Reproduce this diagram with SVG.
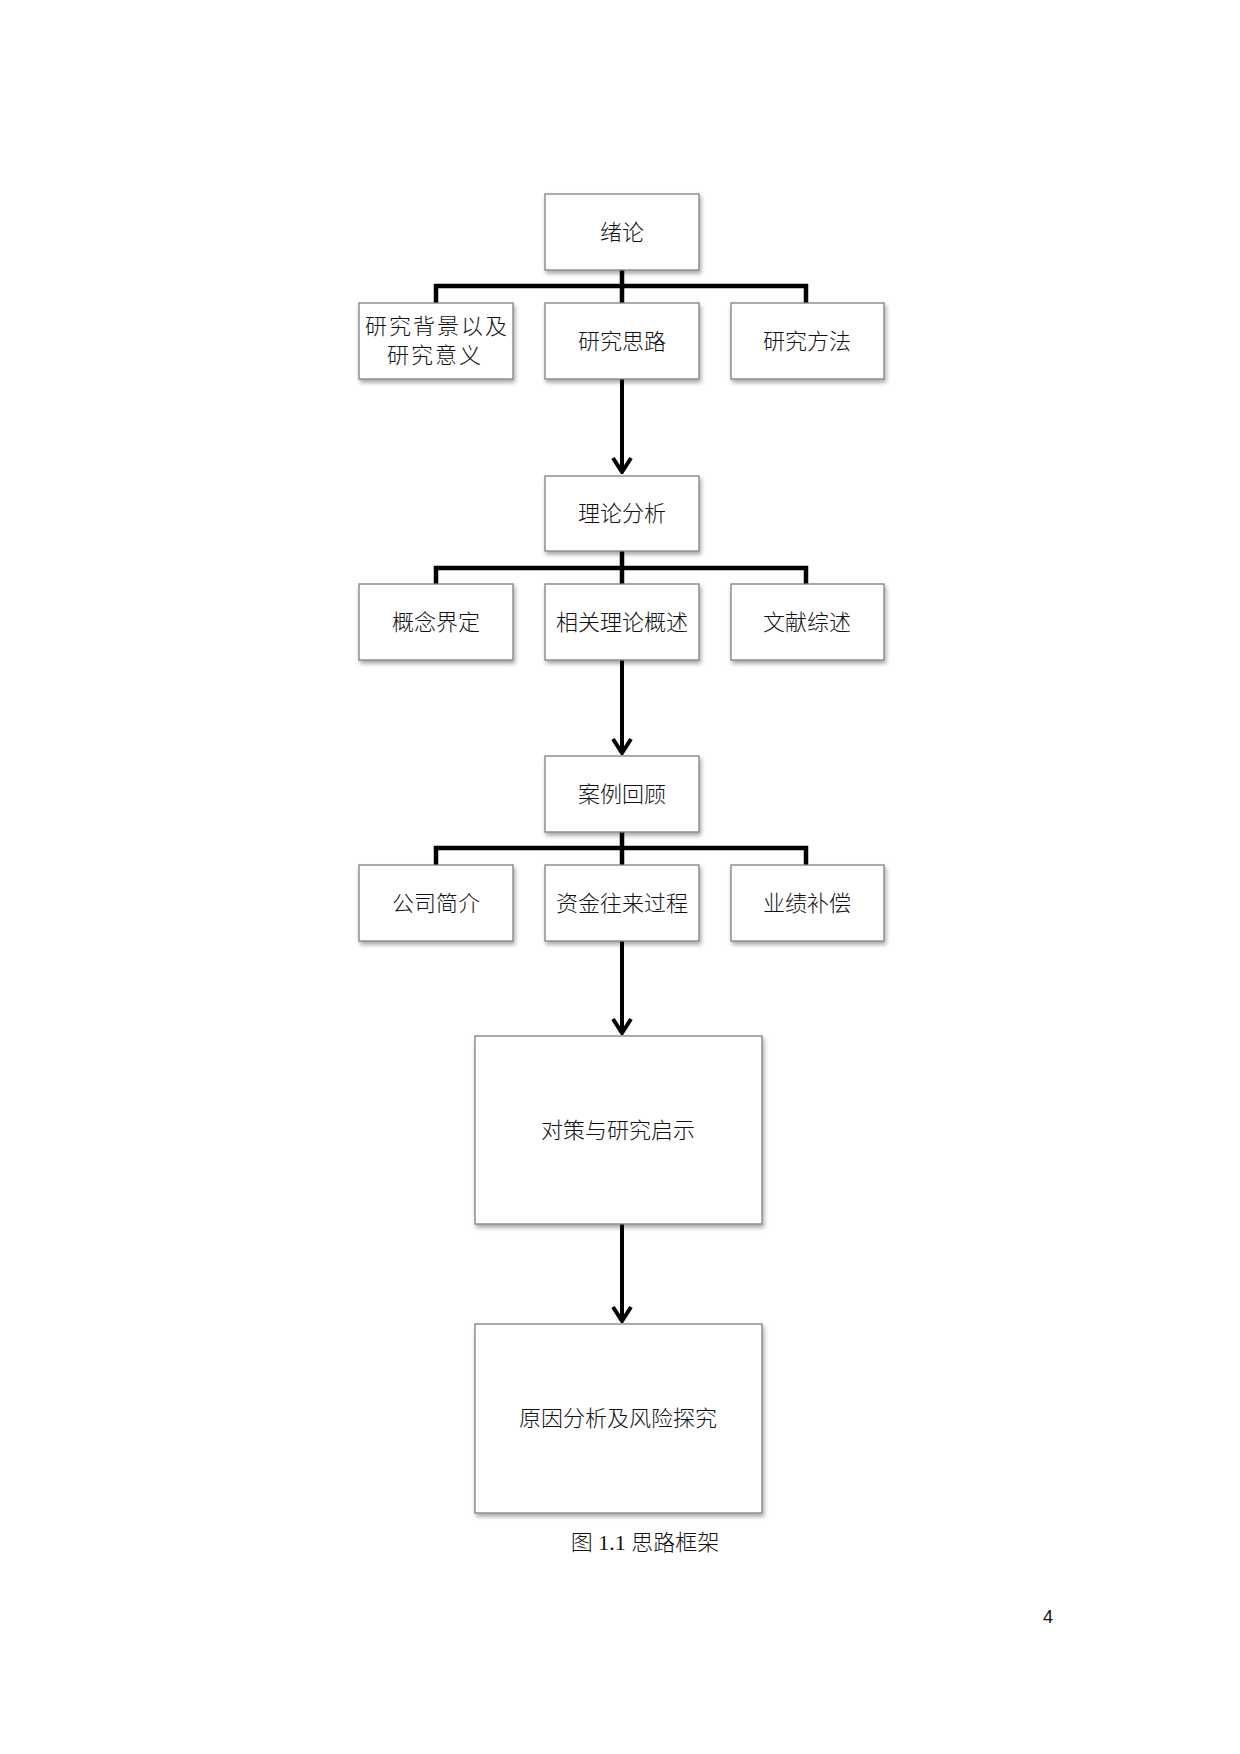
<svg xmlns="http://www.w3.org/2000/svg" width="1240" height="1754" viewBox="0 0 1240 1754">
<defs>
<style>
.box{fill:#fff;stroke:#808080;stroke-width:1.3;filter:url(#sh)}
.t{font-family:"Noto Sans CJK SC","Noto Sans",sans-serif;font-size:22px;font-weight:300;fill:#111;text-anchor:middle;dominant-baseline:central}
.br{fill:none;stroke:#000;stroke-width:4.5;stroke-linejoin:miter;stroke-linecap:butt}
.ar{fill:none;stroke:#000;stroke-width:4;marker-end:url(#ah)}
.cap{font-family:"Liberation Serif","Noto Sans CJK SC",serif;font-size:22px;font-weight:300;fill:#111;text-anchor:middle}
.pg{font-family:"Liberation Sans",sans-serif;font-size:18px;fill:#111;text-anchor:middle}
</style>
<filter id="sh" x="-10%" y="-10%" width="130%" height="140%">
<feDropShadow dx="1.5" dy="3" stdDeviation="2" flood-color="#000" flood-opacity="0.35"/>
</filter>
<marker id="ah" markerUnits="userSpaceOnUse" viewBox="-18 -12 20 24" markerWidth="20" markerHeight="24" refX="0" refY="0" orient="auto">
<path d="M-14,-9 L0,0 L-14,9" fill="none" stroke="#000" stroke-width="4" stroke-linejoin="miter"/>
</marker>
</defs>
<rect width="1240" height="1754" fill="#fff"/>

<g id="connectors">
<path class="br" d="M622,270 V303 M436,303 V286 H806 V303"/>
<path class="br" d="M622,551 V584 M436,584 V568 H806 V584"/>
<path class="br" d="M622,832 V865 M436,865 V848 H806 V865"/>
<line class="ar" x1="622" y1="379" x2="622" y2="472"/>
<line class="ar" x1="622" y1="660" x2="622" y2="753"/>
<line class="ar" x1="622" y1="941" x2="622" y2="1033"/>
<line class="ar" x1="622" y1="1224" x2="622" y2="1321"/>
</g>

<g id="n-xulun"><rect class="box" x="545" y="194" width="154" height="76"/><text class="t" x="622" y="230">绪论</text></g>
<g id="n-beijing"><rect class="box" x="359" y="303" width="154" height="76"/><text class="t" x="437" y="324" font-size="20" letter-spacing="2">研究背景以及</text><text class="t" x="435" y="353" font-size="20" letter-spacing="2">研究意义</text></g>
<g id="n-silu"><rect class="box" x="545" y="303" width="154" height="76"/><text class="t" x="622" y="339">研究思路</text></g>
<g id="n-fangfa"><rect class="box" x="731" y="303" width="153" height="76"/><text class="t" x="807" y="339">研究方法</text></g>

<g id="n-lilun"><rect class="box" x="545" y="476" width="154" height="75"/><text class="t" x="622" y="511">理论分析</text></g>
<g id="n-gainian"><rect class="box" x="359" y="584" width="154" height="76"/><text class="t" x="436" y="620">概念界定</text></g>
<g id="n-xiangguan"><rect class="box" x="545" y="584" width="154" height="76"/><text class="t" x="622" y="620">相关理论概述</text></g>
<g id="n-wenxian"><rect class="box" x="731" y="584" width="153" height="76"/><text class="t" x="807" y="620">文献综述</text></g>

<g id="n-anli"><rect class="box" x="545" y="756" width="154" height="76"/><text class="t" x="622" y="792">案例回顾</text></g>
<g id="n-gongsi"><rect class="box" x="359" y="865" width="154" height="76"/><text class="t" x="436" y="901">公司简介</text></g>
<g id="n-zijin"><rect class="box" x="545" y="865" width="154" height="76"/><text class="t" x="622" y="901">资金往来过程</text></g>
<g id="n-yeji"><rect class="box" x="731" y="865" width="153" height="76"/><text class="t" x="807" y="901">业绩补偿</text></g>

<g id="n-duice"><rect class="box" x="475" y="1036" width="287" height="188"/><text class="t" x="618" y="1128">对策与研究启示</text></g>
<g id="n-yuanyin"><rect class="box" x="475" y="1324" width="287" height="189"/><text class="t" x="618" y="1416">原因分析及风险探究</text></g>

<text class="cap" x="645" y="1550">图 1.1 思路框架</text>
<text class="pg" x="1048" y="1623">4</text>
</svg>
